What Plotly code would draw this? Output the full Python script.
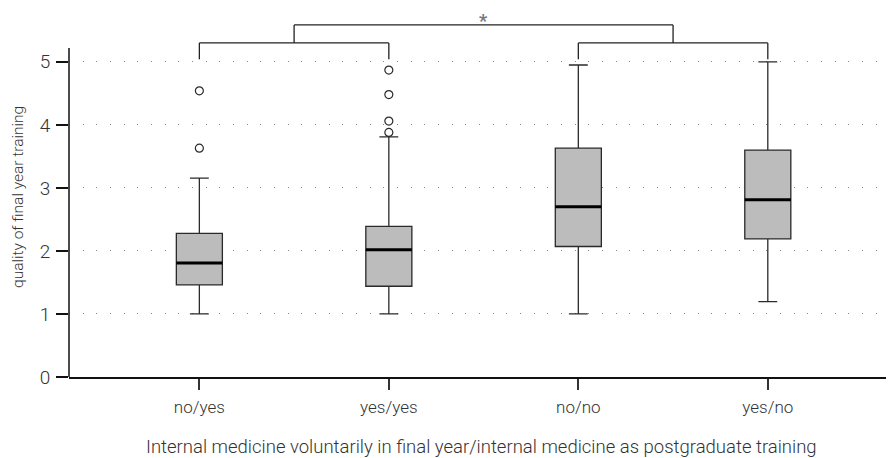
import plotly.graph_objects as go

categories = ["no/yes", "yes/yes", "no/no", "yes/no"]
q1 = [1.46, 1.44, 2.07, 2.19]
median = [1.81, 2.02, 2.70, 2.81]
q3 = [2.28, 2.39, 3.63, 3.60]
lower_whisker = [1.0, 1.0, 1.0, 1.195]
upper_whisker = [3.155, 3.81, 4.95, 5.0]
outlier_cat = ["no/yes", "no/yes", "yes/yes", "yes/yes", "yes/yes", "yes/yes"]
outlier_val = [4.54, 3.63, 4.87, 4.48, 4.06, 3.88]
y_ticks = [0, 1, 2, 3, 4, 5]
bracket_pairs = [(0, 1), (2, 3)]
sig_label = "*"
x_title = "Internal medicine voluntarily in final year/internal medicine as postgraduate training"
y_title = "quality of final year training"

BOX_W = 0.243
FONT = "Roboto"

fig = go.Figure()
fig.add_trace(go.Box(
    x=categories, q1=q1, median=median, q3=q3,
    lowerfence=lower_whisker, upperfence=upper_whisker,
    boxpoints=False, width=BOX_W, whiskerwidth=0.41,
    fillcolor="#bbbcbb", line=dict(color="#2a2a2a", width=1.3),
    showlegend=False, hoverinfo="skip",
))
fig.add_trace(go.Scatter(
    x=outlier_cat, y=outlier_val, mode="markers",
    marker=dict(symbol="circle-open", size=8, color="#2a2a2a", line=dict(width=1.2)),
    showlegend=False, hoverinfo="skip",
))

shapes = []
for i, m in enumerate(median):
    shapes.append(dict(type="line", xref="x", yref="y", x0=i - BOX_W / 2, x1=i + BOX_W / 2,
                       y0=m, y1=m, line=dict(color="black", width=3)))
shapes.append(dict(type="line", xref="paper", yref="y", x0=0, x1=0, y0=0, y1=5.22,
                   line=dict(color="#111", width=1.5)))
leg_bottom, low_level, top_level = 5.04, 5.30, 5.585
mids = []
for a, b in bracket_pairs:
    for xx in (a, b):
        shapes.append(dict(type="line", xref="x", yref="y", x0=xx, x1=xx, y0=leg_bottom, y1=low_level,
                           line=dict(color="#222", width=1.3)))
    shapes.append(dict(type="line", xref="x", yref="y", x0=a, x1=b, y0=low_level, y1=low_level,
                       line=dict(color="#222", width=1.3)))
    mid = (a + b) / 2
    mids.append(mid)
    shapes.append(dict(type="line", xref="x", yref="y", x0=mid, x1=mid, y0=low_level, y1=top_level,
                       line=dict(color="#222", width=1.3)))
shapes.append(dict(type="line", xref="x", yref="y", x0=mids[0], x1=mids[1], y0=top_level, y1=top_level,
                   line=dict(color="#222", width=1.3)))

fig.update_layout(
    width=886, height=450,
    margin=dict(l=61, r=0, t=0, b=80.6),
    plot_bgcolor="white", paper_bgcolor="white",
    font=dict(family=FONT, size=16, color="#333", weight=300),
    shapes=shapes,
    annotations=[
        dict(x=sum(mids) / 2, y=1, xref="x", yref="paper", text=sig_label,
             showarrow=False, yanchor="top", xanchor="center",
             font=dict(size=18, color="#777", family=FONT, weight=700)),
        dict(x=0.4994, y=-0.191, xref="paper", yref="paper", text=x_title, showarrow=False,
             xanchor="center", yanchor="middle", font=dict(size=18.5)),
        dict(x=-0.0618, y=0.488, xref="paper", yref="paper", text=y_title, showarrow=False,
             textangle=-90, xanchor="center", yanchor="middle", font=dict(size=15.5)),
    ],
    xaxis=dict(
        type="category", categoryorder="array", categoryarray=categories,
        range=[-0.688, 3.666], showgrid=False, zeroline=False, automargin=False,
        showline=True, linecolor="#111", linewidth=1.5,
        ticks="outside", ticklen=11, tickwidth=1.5, tickcolor="#333",
        tickfont=dict(size=17), ticklabelstandoff=3,
    ),
    yaxis=dict(
        range=[0, 5.854], tickvals=y_ticks, showline=False, zeroline=False, automargin=False,
        showgrid=True, gridcolor="#888", gridwidth=1, griddash="1px,12.67px",
        ticks="outside", ticklen=12, tickwidth=1.5, tickcolor="#111",
        tickfont=dict(size=19), ticklabelstandoff=2,
    ),
)

fig.write_html("out.html")
